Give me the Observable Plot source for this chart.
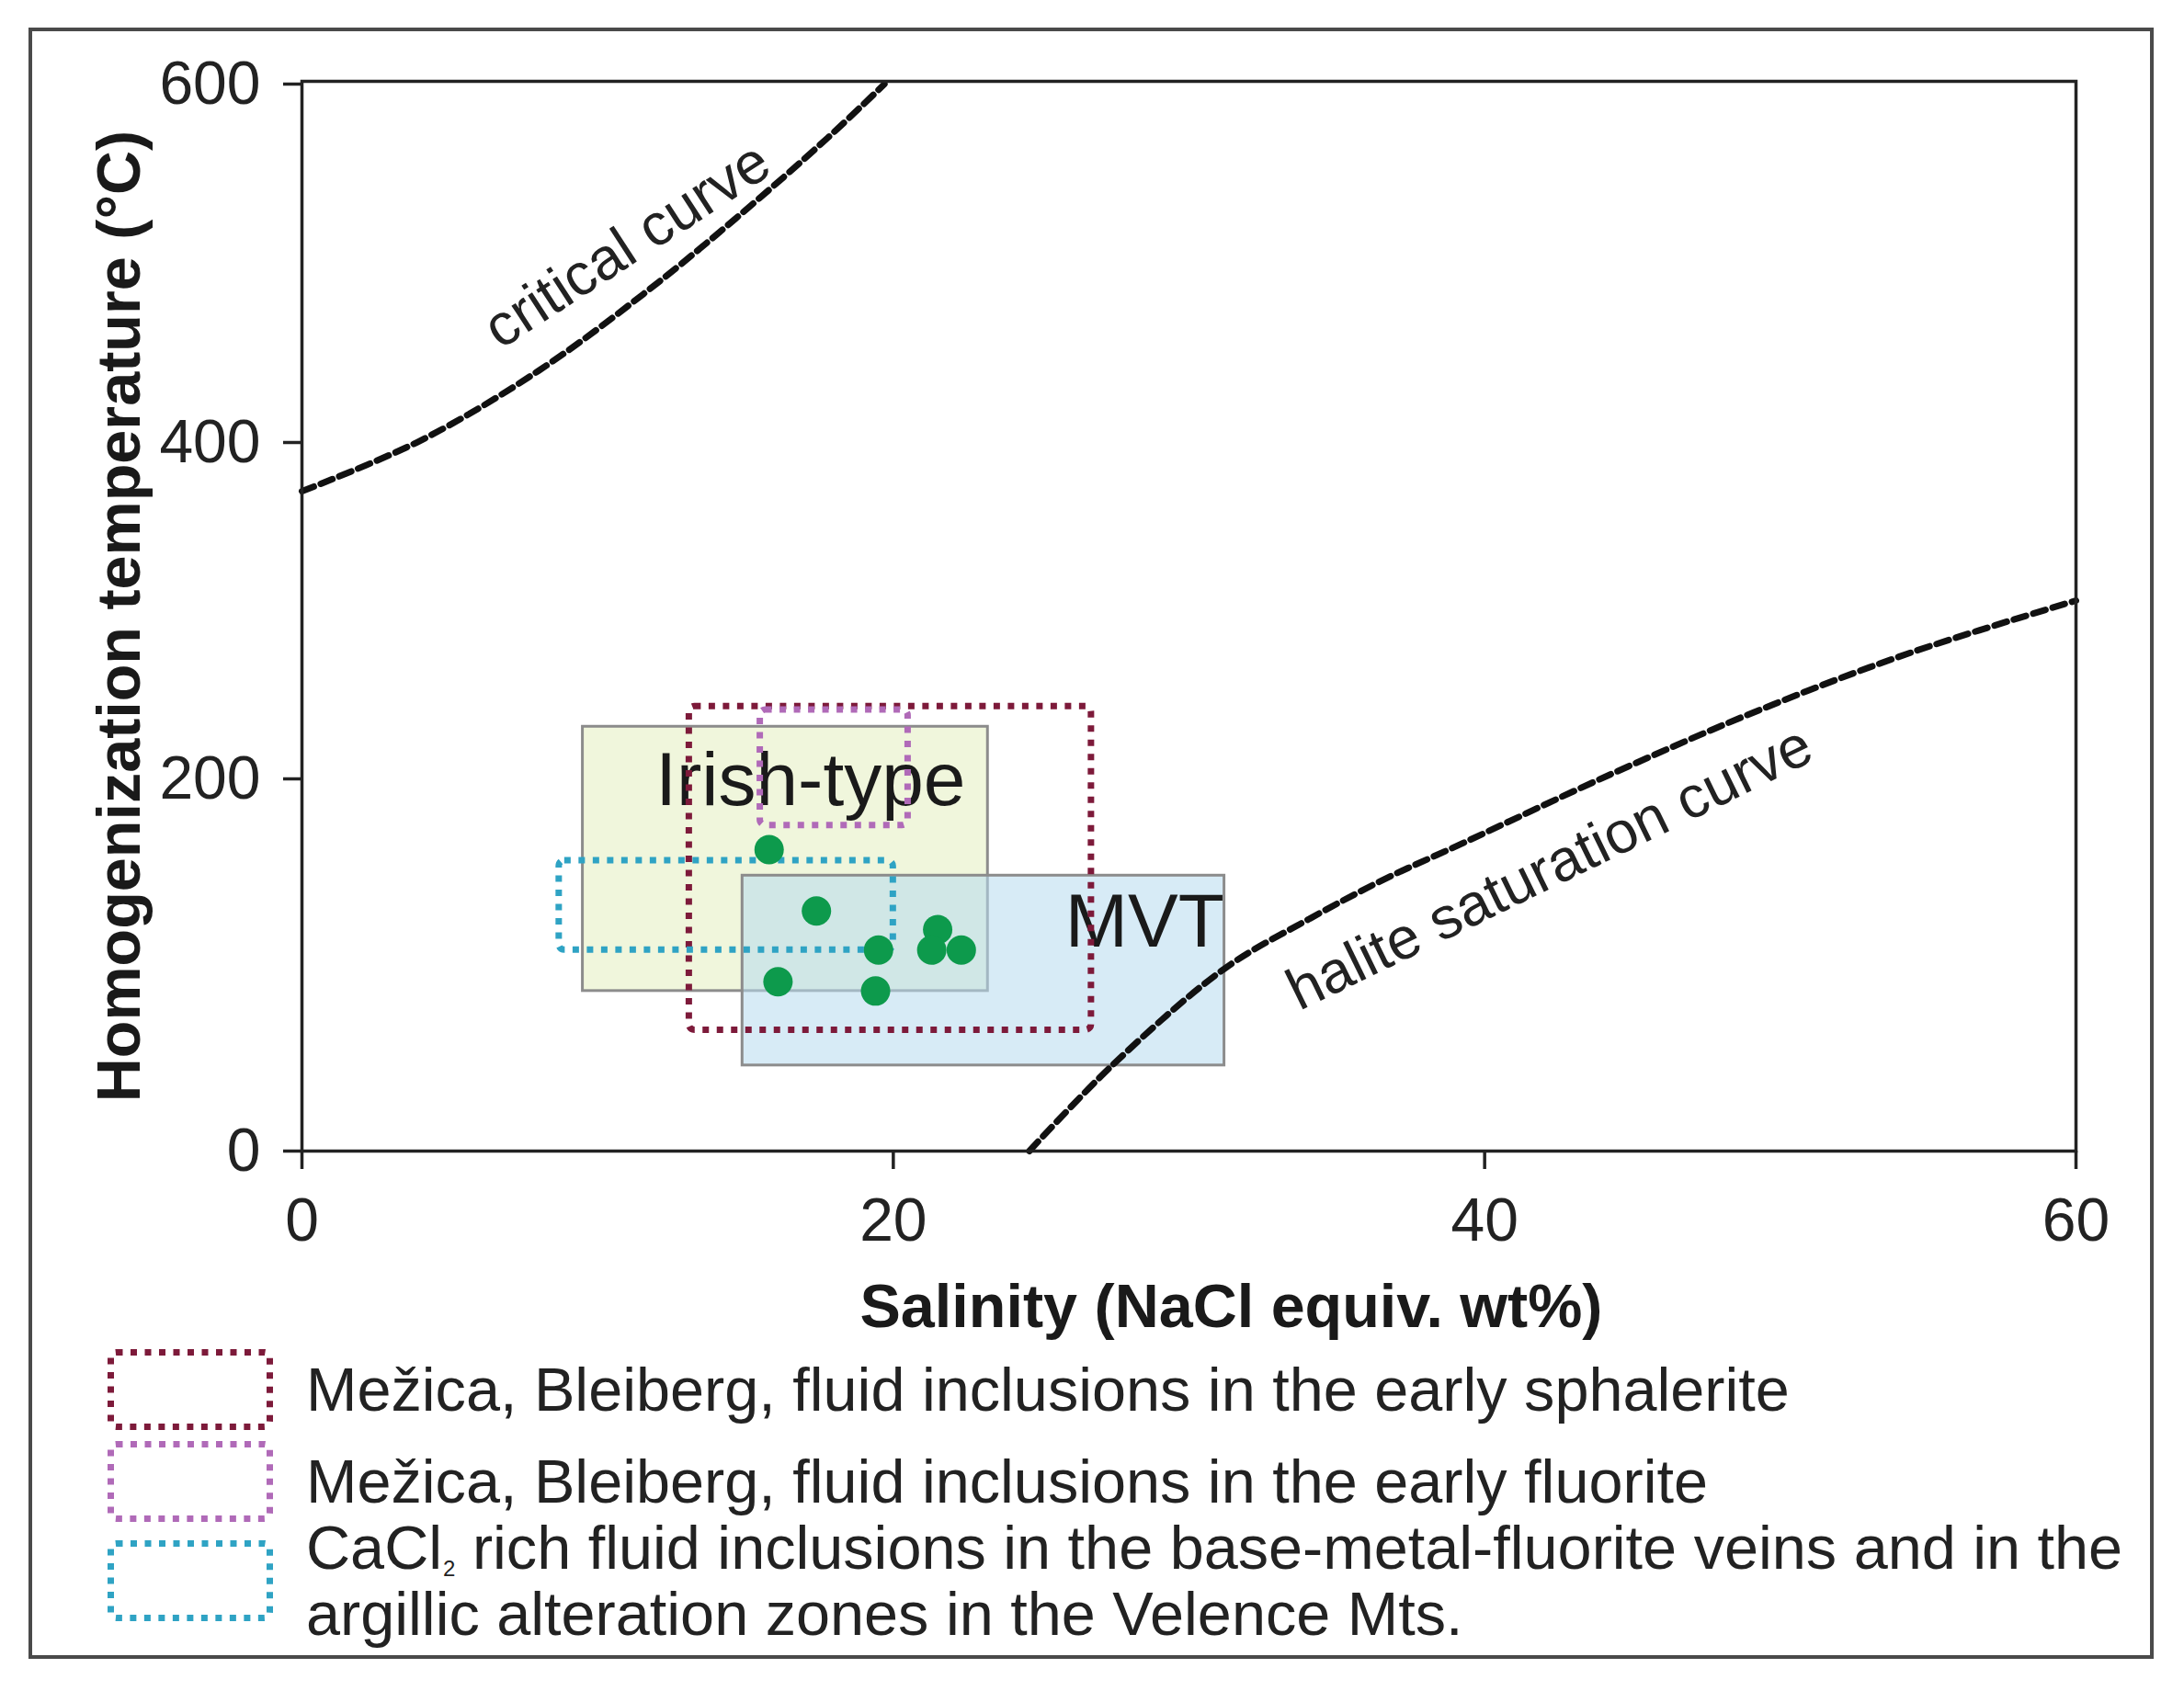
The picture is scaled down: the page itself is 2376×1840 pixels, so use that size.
<!DOCTYPE html>
<html><head><meta charset="utf-8">
<script src="https://cdn.jsdelivr.net/npm/d3@7"></script>
<script src="https://cdn.jsdelivr.net/npm/@observablehq/plot@0.6"></script>
<style>
html,body{margin:0;padding:0;background:#fff;}
#wrap{position:relative;width:2376px;height:1840px;font-family:"Liberation Sans",Arial,Helvetica,sans-serif;color:#222;}
#border{position:absolute;left:31px;top:30px;width:2312px;height:1775px;box-sizing:border-box;border:4px solid #4a4a4a;}
#chart{position:absolute;left:0;top:0;}
#legend{position:absolute;left:117px;top:1468px;}
.row{display:flex;align-items:center;margin-bottom:12px;}
.row.last{margin-top:-20px;}
.row svg{flex:none;display:block;}
.row .lab{margin-left:36px;font-size:66.6px;line-height:59px;white-space:nowrap;color:#222;}
.row.last .lab{line-height:72px;}
.sub{font-size:24px;line-height:0;position:relative;top:8px;margin-left:1px;}
</style></head>
<body><div id="wrap"><div id="border"></div><div id="chart"></div><div id="legend"></div></div>
<script>
// ---- data ----
const xTicks = [0, 20, 40, 60];
const yTicks = [0, 200, 400, 600];

// ore-deposit type fields (salinity wt%, temperature °C)
const zoneNames = ["Irish-type", "MVT"];
const zoneSal1 = [9.5, 14.9];
const zoneSal2 = [23.2, 31.2];
const zoneT1 = [86, 46];
const zoneT2 = [231, 148];
const zoneFill = ["#e4efbf", "#b7dbef"];
const zoneLabelSal = [17.2, 28.5];
const zoneLabelT = [186, 110];

// fluid inclusion fields (dotted boxes)
const inclNames = [
  "Mežica, Bleiberg, fluid inclusions in the early sphalerite",
  "Mežica, Bleiberg, fluid inclusions in the early fluorite",
  "CaCl2 rich fluid inclusions in the base-metal-fluorite veins and in the\nargillic alteration zones in the Velence Mts."
];
const inclSal1 = [13.1, 15.5, 8.7];
const inclSal2 = [26.7, 20.5, 20.0];
const inclT1 = [65, 175, 108];
const inclT2 = [243, 241, 156];
const inclColors = ["#7d1a3a", "#b06ab8", "#2fa3c4"];

// measured inclusions (green dots)
const ptSal = [15.8, 17.4, 16.1, 19.5, 19.4, 21.5, 21.3, 22.3];
const ptT = [162, 129, 91, 108, 86, 119, 108, 108];

// reference curves
const critSal = [0, 4.0, 8.0, 11.56, 14.67, 17.78, 19.7];
const critT = [371, 401, 440, 483, 525, 570, 600];
const halSal = [24.6, 27.4, 31.2, 34.1, 36.6, 39.2, 44.3, 49.3, 54.4, 60];
const halT = [0, 46, 98, 125, 146, 165, 203, 241, 275, 306];

const curveLabels = ["critical curve", "halite saturation curve"];
const curveLabelSal = [11.0, 42.2];
const curveLabelT = [510, 152];
const curveLabelAngle = [-33, -26];

// ---- tables built from arrays ----
const zones = zoneNames.map((n, i) => ({n, x1: zoneSal1[i], x2: zoneSal2[i], y1: zoneT1[i], y2: zoneT2[i], f: zoneFill[i], lx: zoneLabelSal[i], ly: zoneLabelT[i]}));
const incl = inclNames.map((n, i) => ({n, x1: inclSal1[i], x2: inclSal2[i], y1: inclT1[i], y2: inclT2[i], c: inclColors[i]}));
const pts = ptSal.map((s, i) => ({s, t: ptT[i]}));
const crit = critSal.map((s, i) => ({s, t: critT[i]}));
const hal = halSal.map((s, i) => ({s, t: halT[i]}));
const clabs = curveLabels.map((n, i) => ({n, x: curveLabelSal[i], y: curveLabelT[i], a: curveLabelAngle[i]}));

const W = 2376, H = 1470;
const font = "'Liberation Sans', Arial, Helvetica, sans-serif";

const chart = Plot.plot({
  width: W, height: H,
  marginLeft: 328, marginRight: 118, marginTop: 88, marginBottom: H - 1252,
  style: {fontFamily: font, fontSize: "66px", color: "#222", background: "transparent", overflow: "visible"},
  x: {type: "linear", domain: [0, 60]},
  y: {type: "linear", domain: yTicks, range: [1252, 847, 481, 91]},
  marks: [
    Plot.rect(zones, {x1: "x1", x2: "x2", y1: "y1", y2: "y2", fill: "f", fillOpacity: 0.55, stroke: "#8c8c8c", strokeWidth: 3}),
    Plot.text(zones, {x: "lx", y: "ly", text: "n", fontSize: 82, lineAnchor: "bottom", textAnchor: "middle", fill: "#1a1a1a"}),
    Plot.line(crit, {x: "s", y: "t", stroke: "#111", strokeWidth: 7, strokeDasharray: "14,8", curve: "catmull-rom"}),
    Plot.line(hal, {x: "s", y: "t", stroke: "#111", strokeWidth: 7, strokeDasharray: "14,8", curve: "catmull-rom"}),
    Plot.text(clabs, {x: "x", y: "y", text: "n", rotate: "a", fontSize: 64, textAnchor: "middle", lineAnchor: "middle", fill: "#222"}),
    Plot.rect(incl, {x1: "x1", x2: "x2", y1: "y1", y2: "y2", fill: "none", stroke: "c", strokeWidth: 7, strokeDasharray: "7,8.5", rx: 6}),
    Plot.dot(pts, {x: "s", y: "t", r: 16, fill: "#0d9a4c", stroke: "none"}),
    Plot.frame({stroke: "#222", strokeWidth: 3.5}),
    Plot.axisY({ticks: yTicks, tickSize: 20, tickPadding: 25, strokeWidth: 3.5, fontSize: 66, label: null}),
    Plot.axisX({ticks: xTicks, tickSize: 20, tickPadding: 31, strokeWidth: 3.5, fontSize: 66, label: null}),
    Plot.text(["Homogenization temperature (°C)"], {frameAnchor: "left", rotate: -90, dx: -198, fontSize: 66.5, fontWeight: "bold", textAnchor: "middle", lineAnchor: "middle", fill: "#1a1a1a"}),
    Plot.text(["Salinity (NaCl equiv. wt%)"], {frameAnchor: "bottom", dx: 46, dy: 170, fontSize: 66.5, fontWeight: "bold", textAnchor: "middle", lineAnchor: "middle", fill: "#1a1a1a"})
  ]
});
document.getElementById("chart").appendChild(chart);

// ---- legend ----
const legend = d3.select("#legend");
incl.forEach((d, i) => {
  const row = legend.append("div").attr("class", "row" + (i === incl.length - 1 ? " last" : ""));
  const s = row.append("svg").attr("width", 180).attr("height", 88);
  s.append("rect").attr("x", 3.5).attr("y", 3.5).attr("width", 173).attr("height", 81).attr("rx", 6)
    .attr("fill", "none").attr("stroke", d.c).attr("stroke-width", 7).attr("stroke-dasharray", "7,8.5");
  const lab = row.append("div").attr("class", "lab");
  d.n.split("\n").forEach((line, j) => {
    const ln = lab.append("div");
    const k = line.indexOf("CaCl2");
    if (k >= 0) {
      ln.append("span").text(line.slice(0, k) + "CaCl");
      ln.append("span").attr("class", "sub").text("2");
      ln.append("span").text(line.slice(k + 5));
    } else {
      ln.text(line);
    }
  });
});
</script></body></html>
